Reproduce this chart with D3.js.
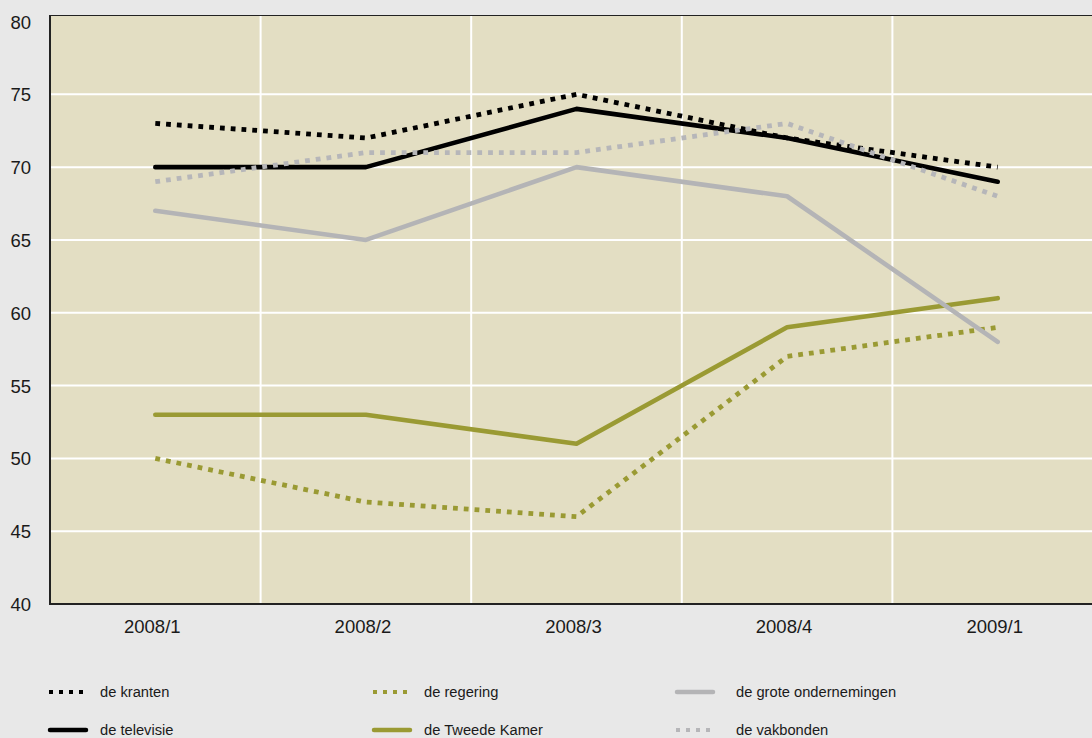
<!DOCTYPE html>
<html>
<head>
<meta charset="utf-8">
<script src="https://cdn.jsdelivr.net/npm/d3@7"></script>
<style>
  html, body { margin: 0; padding: 0; background: #e8e8e8; }
  svg { display: block; }
  .tick-label { font-family: "Liberation Sans", Arial, sans-serif; font-size: 18.5px; fill: #1a1a1a; }
  .legend-label { font-family: "Liberation Sans", Arial, sans-serif; font-size: 14.7px; fill: #1a1a1a; }
</style>
</head>
<body>
<svg id="chart" width="1092" height="738"></svg>
<script>
(function () {
    var categories = ['2008/1', '2008/2', '2008/3', '2008/4', '2009/1'];
    var yTicks = [40, 45, 50, 55, 60, 65, 70, 75, 80];

    var kranten = [73, 72, 75, 72, 70];
    var televisie = [70, 70, 74, 72, 69];
    var regering = [50, 47, 46, 57, 59];
    var tweedeKamer = [53, 53, 51, 59, 61];
    var groteOndernemingen = [67, 65, 70, 68, 58];
    var vakbonden = [69, 71, 71, 73, 68];

    var seriesNames = ['de kranten', 'de televisie', 'de regering', 'de Tweede Kamer', 'de grote ondernemingen', 'de vakbonden'];
    var seriesValues = [kranten, televisie, regering, tweedeKamer, groteOndernemingen, vakbonden];
    var seriesColors = ['#000000', '#000000', '#9a9a33', '#9a9a33', '#b4b4b6', '#b6b6b9'];
    var seriesDotted = [true, false, true, false, false, true];

    var svg = d3.select('#chart');
    var left = 50, top = 15, bottom = 604;
    var right = 1103;

    var x = d3.scaleBand().domain(categories).range([left, right]);
    var y = d3.scaleLinear().domain([40, 80]).range([bottom, 21.5]);

    // plot background
    svg.append('rect')
        .attr('x', left)
        .attr('y', top)
        .attr('width', right - left)
        .attr('height', bottom - top)
        .attr('fill', '#e3dec3');

    // horizontal grid
    svg.selectAll('.hgrid')
        .data(yTicks.filter(function (d) { return d > 40 && d < 80; }))
        .enter().append('line')
        .attr('class', 'hgrid')
        .attr('x1', left)
        .attr('x2', right)
        .attr('y1', function (d) { return y(d); })
        .attr('y2', function (d) { return y(d); })
        .attr('stroke', '#ffffff')
        .attr('stroke-width', 2);

    // vertical grid between categories
    svg.selectAll('.vgrid')
        .data(categories.slice(1))
        .enter().append('line')
        .attr('class', 'vgrid')
        .attr('x1', function (d) { return x(d); })
        .attr('x2', function (d) { return x(d); })
        .attr('y1', top)
        .attr('y2', bottom)
        .attr('stroke', '#ffffff')
        .attr('stroke-width', 2);

    // frame
    svg.append('line')
        .attr('x1', left).attr('x2', right)
        .attr('y1', top + 0.5).attr('y2', top + 0.5)
        .attr('stroke', '#222').attr('stroke-width', 1);
    svg.append('line')
        .attr('x1', left).attr('x2', left)
        .attr('y1', top).attr('y2', bottom + 1)
        .attr('stroke', '#222').attr('stroke-width', 2);
    svg.append('line')
        .attr('x1', left - 1).attr('x2', right)
        .attr('y1', bottom).attr('y2', bottom)
        .attr('stroke', '#222').attr('stroke-width', 2);

    // y labels
    svg.selectAll('.ylab')
        .data(yTicks)
        .enter().append('text')
        .attr('class', 'tick-label')
        .attr('x', 31)
        .attr('y', function (d) { return y(d) + 7; })
        .attr('text-anchor', 'end')
        .text(function (d) { return d; });

    // x labels
    svg.selectAll('.xlab')
        .data(categories)
        .enter().append('text')
        .attr('class', 'tick-label')
        .attr('x', function (d) { return x(d) + x.bandwidth() / 2 - 3; })
        .attr('y', 633)
        .attr('text-anchor', 'middle')
        .text(function (d) { return d; });

    // lines
    var line = d3.line()
        .x(function (d, i) { return x(categories[i]) + x.bandwidth() / 2; })
        .y(function (d) { return y(d); });

    for (var i = 0; i < seriesValues.length; i++) {
        svg.append('path')
            .datum(seriesValues[i])
            .attr('d', line)
            .attr('fill', 'none')
            .attr('stroke', seriesColors[i])
            .attr('stroke-width', seriesDotted[i] ? 4.8 : 4.6)
            .attr('stroke-linejoin', seriesDotted[i] ? 'miter' : 'round')
            .attr('stroke-linecap', seriesDotted[i] ? 'butt' : 'round')
            .attr('stroke-dasharray', seriesDotted[i] ? '4.8,6' : null);
    }

    // legend, filled column by column
    var legendCols = [48, 372, 675];
    var legendRows = [692, 730];
    for (var j = 0; j < seriesNames.length; j++) {
        var cx = legendCols[Math.floor(j / 2)];
        var cy = legendRows[j % 2];
        svg.append('line')
            .attr('x1', seriesDotted[j] ? cx + 1 : cx + 2)
            .attr('x2', cx + 38)
            .attr('y1', cy)
            .attr('y2', cy)
            .attr('stroke', seriesColors[j])
            .attr('stroke-width', seriesDotted[j] ? 4 : 4.5)
            .attr('stroke-linecap', seriesDotted[j] ? 'butt' : 'round')
            .attr('stroke-dasharray', seriesDotted[j] ? '4,6' : null);
        svg.append('text')
            .attr('class', 'legend-label')
            .attr('x', cx + (j < 4 ? 52 : 61))
            .attr('y', cy + 4.5)
            .text(seriesNames[j]);
    }
})();
</script>
</body>
</html>
